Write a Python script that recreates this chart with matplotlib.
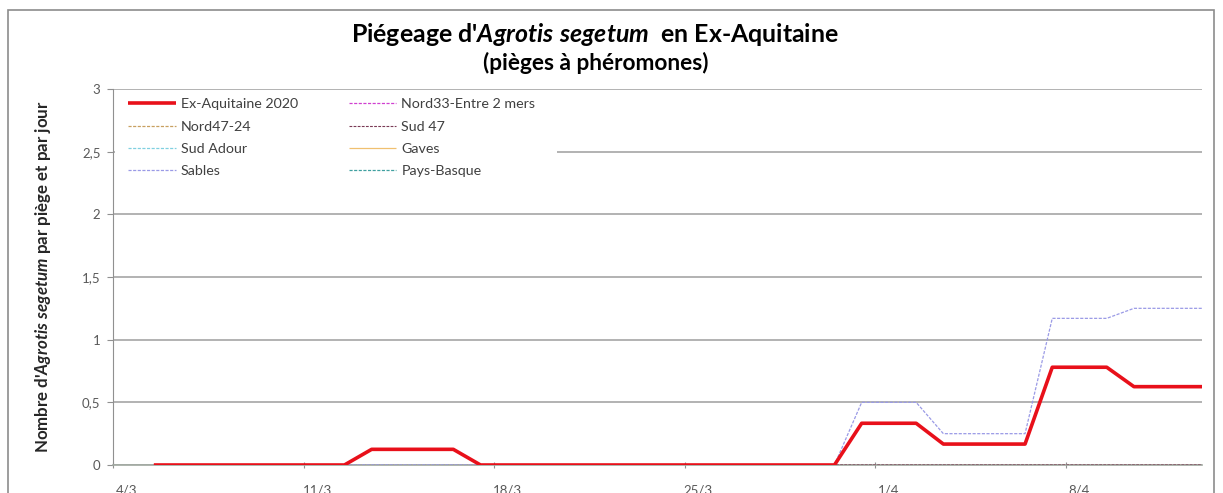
import matplotlib
matplotlib.use("Agg")
import matplotlib.pyplot as plt
import pandas as pd
from matplotlib.patches import Rectangle

# Daily dates (5/3 -> 13/4 2020), the axis starts on 4/3
dates = pd.date_range("2020-03-05", "2020-04-13", freq="D")
tick_dates = pd.date_range("2020-03-04", "2020-04-08", freq="7D")
tick_labels = ["4/3", "11/3", "18/3", "25/3", "1/4", "8/4"]

# Captures per trap and per day
ex_aquitaine = [0, 0, 0, 0, 0, 0, 0, 0, 0.125, 0.125, 0.125, 0.125, 0, 0,
                0, 0, 0, 0, 0, 0, 0, 0, 0, 0, 0, 0, 0.333, 0.333, 0.333,
                0.167, 0.167, 0.167, 0.167, 0.78, 0.78, 0.78, 0.625, 0.625,
                0.625, 0.625]
sables = [0, 0, 0, 0, 0, 0, 0, 0, 0, 0, 0, 0, 0, 0, 0, 0, 0, 0, 0, 0, 0,
          0, 0, 0, 0, 0, 0.5, 0.5, 0.5, 0.25, 0.25, 0.25, 0.25, 1.17, 1.17,
          1.17, 1.25, 1.25, 1.25, 1.25]
sud47 = [0, 0, 0, 0, 0, 0, 0, 0, 0.125, 0.125, 0.125, 0.125, 0, 0, 0, 0,
         0, 0, 0, 0, 0, 0, 0, 0, 0, 0, 0, 0, 0, 0, 0, 0, 0, 0, 0, 0, 0, 0,
         0, 0]
zeros = [0] * 40  # sites with no capture over the period

# name, values, colour, style, width, zorder
series = [
    ("Ex-Aquitaine 2020", ex_aquitaine, "#e8101a", "-", 2.6, 5),
    ("Nord33-Entre 2 mers", zeros, "#d040d0", "--", 0.9, 3),
    ("Nord47-24", zeros, "#c8a060", "--", 0.9, 3),
    ("Sud 47", sud47, "#7a3a55", "--", 0.8, 4),
    ("Sud Adour", zeros, "#80d0e0", "--", 0.9, 3),
    ("Gaves", zeros, "#f0c070", "-", 0.9, 3),
    ("Sables", sables, "#9a9ae6", "--", 0.9, 4),
    ("Pays-Basque", zeros, "#40a0a0", "--", 0.9, 3),
]

plt.rcParams["font.family"] = ["Lato", "DejaVu Sans"]
plt.rcParams["mathtext.fontset"] = "custom"
plt.rcParams["mathtext.rm"] = "Lato:bold"
plt.rcParams["mathtext.it"] = "Lato:italic:bold"

fig = plt.figure(figsize=(12.23, 4.93), dpi=100)
ax = fig.add_axes([113 / 1223, 1 - 465 / 493, 1089 / 1223, 376 / 493])

# points sit in the middle of each day
x = dates + pd.Timedelta(hours=12)
handles = []
for name, vals, col, ls, lw, z in series:
    h, = ax.plot(x, vals, color=col, linestyle=ls, linewidth=lw, label=name,
                 dashes=(2.5, 1.2) if ls == "--" else (None, None),
                 solid_capstyle="butt", zorder=z)
    handles.append(h)

ax.set_xlim(pd.Timestamp("2020-03-04"), pd.Timestamp("2020-04-13"))
ax.set_ylim(0, 3)
ax.set_yticks([0, 0.5, 1, 1.5, 2, 2.5, 3])
ax.set_yticklabels(["0", "0,5", "1", "1,5", "2", "2,5", "3"])
ax.yaxis.grid(True, color="#a6a6a6", linewidth=1.2)
ax.set_axisbelow(True)

ax.set_xticks(tick_dates)
ax.set_xticklabels([])
ax.set_xticks(tick_dates + pd.Timedelta(hours=12), minor=True)
ax.set_xticklabels(tick_labels, minor=True)
ax.tick_params(axis="x", which="major", length=4, direction="inout",
               color="#909090")
ax.tick_params(axis="x", which="minor", length=0, pad=14, labelsize=9.5,
               labelcolor="#595959")
ax.tick_params(axis="y", length=4, color="#909090", labelsize=9.5,
               labelcolor="#595959", pad=5)

for s in ["top", "right"]:
    ax.spines[s].set_visible(False)
ax.spines["left"].set_color("#909090")
ax.spines["bottom"].set_color("#a0a8a0")
ax.spines["bottom"].set_linewidth(1.2)

ax.set_ylabel(r"Nombre d'$\mathit{Agrotis\ segetum}$ par piège et par jour",
              fontsize=12.2, fontweight="bold", color="#262626", labelpad=21)

# white block behind the legend hides the gridline at 2,5
ax.add_patch(Rectangle((0.002, 0.715), (555 - 113) / 1089, 0.28,
                       transform=ax.transAxes, facecolor="white",
                       edgecolor="none", zorder=1))

order = [0, 2, 4, 6, 1, 3, 5, 7]  # fill the legend row by row
leg = ax.legend([handles[i] for i in order], [series[i][0] for i in order],
                loc="upper left", bbox_to_anchor=(11 / 1089, 1 - 5 / 376),
                ncol=2, frameon=False, fontsize=10.3, handlelength=3.3,
                handletextpad=0.35, columnspacing=3.6, labelspacing=0.72,
                borderpad=0.3, borderaxespad=0)
for t in leg.get_texts():
    t.set_color("#404040")

fig.text(595 / 1223, 1 - 34 / 493,
         r"Piégeage d'$\mathit{Agrotis\ segetum}$  en Ex-Aquitaine",
         ha="center", va="center", fontsize=17.9, fontweight="bold")
fig.text(596 / 1223, 1 - 62.5 / 493, "(pièges à phéromones)",
         ha="center", va="center", fontsize=16.3, fontweight="bold")

# chart area border
fig.patches.append(Rectangle((8 / 1223, -0.1), 1206 / 1223, 1.1 - 10 / 493,
                             transform=fig.transFigure, fill=False,
                             edgecolor="#8c8c8c", linewidth=1.2))

fig.savefig("out.png", dpi=100)
